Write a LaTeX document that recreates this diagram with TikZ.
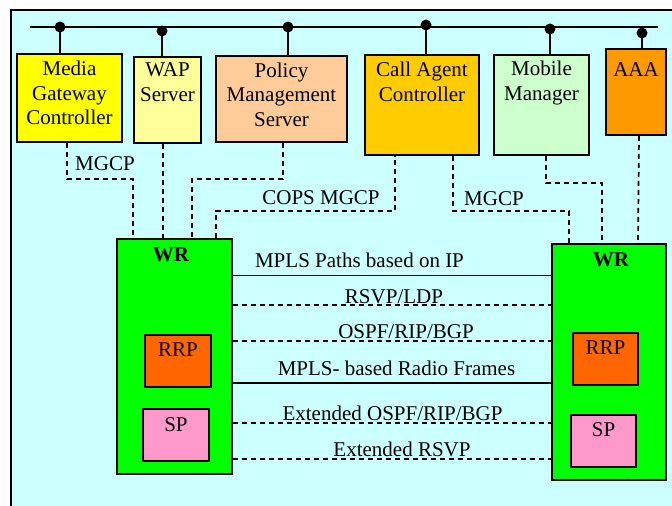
\documentclass[tikz,border=0pt]{standalone}
\usepackage{fontspec}
\setmainfont{Liberation Serif}
\definecolor{bgc}{HTML}{CCFFFF}
\definecolor{mgcc}{HTML}{FFFF00}
\definecolor{wapc}{HTML}{FFFF99}
\definecolor{polc}{HTML}{FFCC99}
\definecolor{cacc}{HTML}{FFCC00}
\definecolor{mmc}{HTML}{CCFFCC}
\definecolor{aaac}{HTML}{FF9900}
\definecolor{wrc}{HTML}{00FF00}
\definecolor{rrpc}{HTML}{FF6600}
\definecolor{spc}{HTML}{FF99CC}
\tikzset{
  box/.style={draw=black, line width=1.8pt, inner sep=0pt},
  txt/.style={inner sep=0pt, align=center, font=\fontsize{21}{24.5}\selectfont},
  lbl/.style={inner sep=0pt, anchor=base, font=\fontsize{21}{24.5}\selectfont},
  dl/.style={line width=1.7pt, dash pattern=on 5pt off 4pt},
  sl/.style={line width=1.5pt},
  busdot/.style={circle, fill=black, inner sep=0pt, minimum size=11pt}
}
\begin{document}
\begin{tikzpicture}[x=1pt,y=-1pt]
\useasboundingbox (0,0) rectangle (672,506);
\fill[white] (0,0) rectangle (672,506);
\begin{scope}
\clip (0,0) rectangle (672,506);
\draw[line width=2pt, fill=bgc] (11,10) rectangle (700,540);
\end{scope}
% bus
\coordinate (busL) at (30,27);
\coordinate (busR) at (658,27);
\draw[line width=1.5pt] (busL) -- (busR);
% top boxes
\node[box, fill=mgcc, minimum width=105pt, minimum height=88pt] (mgc) at (69.5,98) {};
\node[box, fill=wapc, minimum width=67pt, minimum height=86pt] (wap) at (167.5,100) {};
\node[box, fill=polc, minimum width=131pt, minimum height=86pt] (pol) at (281.5,99) {};
\node[box, fill=cacc, minimum width=114pt, minimum height=100pt] (cac) at (422,105) {};
\node[box, fill=mmc, minimum width=95pt, minimum height=100pt] (mm) at (541.5,105) {};
\node[box, fill=aaac, minimum width=60pt, minimum height=86pt] (aaa) at (636,92) {};
\node[txt, anchor=north] (tmgc) at (69.5,61) {Media\\Gateway\\Controller};
\node[txt, anchor=north] (twap) at (167.5,62.5) {WAP\\Server};
\node[txt, anchor=north] (tpol) at (281.5,62.5) {Policy\\Management\\Server};
\node[txt, anchor=north] (tcac) at (422,62) {Call Agent\\Controller};
\node[txt, anchor=north] (tmm) at (541.5,61) {Mobile\\Manager};
\node[txt, anchor=north] (taaa) at (636,62.5) {AAA};
% dots and stems
\node[busdot] (d1) at (60,27) {};
\node[busdot] (d2) at (162,31) {};
\node[busdot] (d3) at (288,27) {};
\node[busdot] (d4) at (426,25) {};
\node[busdot] (d5) at (550,29) {};
\node[busdot] (d6) at (642,33) {};
\draw[sl] (d1.center) -- (mgc.north -| d1);
\draw[sl] (d2.center) -- (wap.north -| d2);
\draw[sl] (d3.center) -- (pol.north -| d3);
\draw[sl] (d4.center) -- (cac.north -| d4);
\draw[sl] (d5.center) -- (mm.north -| d5);
\draw[sl] (d6.center) -- (aaa.north -| d6);
% WR boxes
\node[box, fill=wrc, minimum width=115pt, minimum height=235pt] (wrl) at (174.5,356.5) {};
\node[box, fill=wrc, minimum width=114pt, minimum height=236pt] (wrr) at (609,362) {};
\node[lbl, font=\fontsize{21}{24.5}\selectfont\bfseries] (twrl) at (171,261) {WR};
\node[lbl, font=\fontsize{21}{24.5}\selectfont\bfseries] (twrr) at (611,266) {WR};
\node[box, fill=rrpc, minimum width=66pt, minimum height=52pt] (rrpl) at (178,361) {};
\node[box, fill=spc, minimum width=66pt, minimum height=52pt] (spl) at (176,435) {};
\node[box, fill=rrpc, minimum width=65pt, minimum height=52pt] (rrpr) at (605.5,359) {};
\node[box, fill=spc, minimum width=65pt, minimum height=52pt] (spr) at (603.5,441) {};
\node[lbl] (trrpl) at (178,356) {RRP};
\node[lbl] (tspl) at (176,431) {SP};
\node[lbl] (trrpr) at (605.5,354) {RRP};
\node[lbl] (tspr) at (603.5,436) {SP};
% dashed connectors top
\coordinate (a1) at (67,179); \coordinate (a2) at (133,179);
\draw[dl] (mgc.south -| a1) -- (a1) -- (a2) -- (wrl.north -| a2);
\node[lbl] (lm1) at (105,170) {MGCP};
\coordinate (b1) at (163,0);
\draw[dl] (wap.south -| b1) -- (wrl.north -| b1);
\coordinate (c1) at (283,179); \coordinate (c2) at (192,179);
\draw[dl] (pol.south -| c1) -- (c1) -- (c2) -- (wrl.north -| c2);
\coordinate (e1) at (216,211); \coordinate (e2) at (395,211);
\draw[dl] (wrl.north -| e1) -- (e1) -- (e2) -- (cac.south -| e2);
\node[lbl] (lcops) at (321,204) {COPS MGCP};
\coordinate (f1) at (453,211); \coordinate (f2) at (569,211);
\draw[dl] (cac.south -| f1) -- (f1) -- (f2) -- (wrr.north -| f2);
\node[lbl] (lm2) at (494,205) {MGCP};
\coordinate (g1) at (546,183); \coordinate (g2) at (602,183);
\draw[dl] (mm.south -| g1) -- (g1) -- (g2) -- (wrr.north -| g2);
\coordinate (k1) at (639,0); \coordinate (k2) at (638,0);
\draw[dl] (aaa.south -| k1) -- (wrr.north -| k2);
% horizontal links
\coordinate (h1) at (0,275.5);
\coordinate (h2) at (0,305);
\coordinate (h3) at (0,341);
\coordinate (h4) at (0,383);
\coordinate (h5) at (0,423);
\coordinate (h6) at (0,459);
\draw[sl] (wrl.east |- h1) -- (wrr.west |- h1);
\draw[dl] (wrl.east |- h2) -- (wrr.west |- h2);
\draw[dl] (wrl.east |- h3) -- (wrr.west |- h3);
\draw[sl] (wrl.east |- h4) -- (wrr.west |- h4);
\draw[dl] (wrl.east |- h5) -- (wrr.west |- h5);
\draw[dl] (wrl.east |- h6) -- (wrr.west |- h6);
\node[lbl] (l1) at (359.5,267) {MPLS Paths based on IP};
\node[lbl] (l2) at (394,303) {RSVP/LDP};
\node[lbl] (l3) at (406,338) {OSPF/RIP/BGP};
\node[lbl] (l4) at (396.5,375) {MPLS- based Radio Frames};
\node[lbl] (l5) at (392.5,420) {Extended OSPF/RIP/BGP};
\node[lbl] (l6) at (402,456) {Extended RSVP};
\end{tikzpicture}
\end{document}
